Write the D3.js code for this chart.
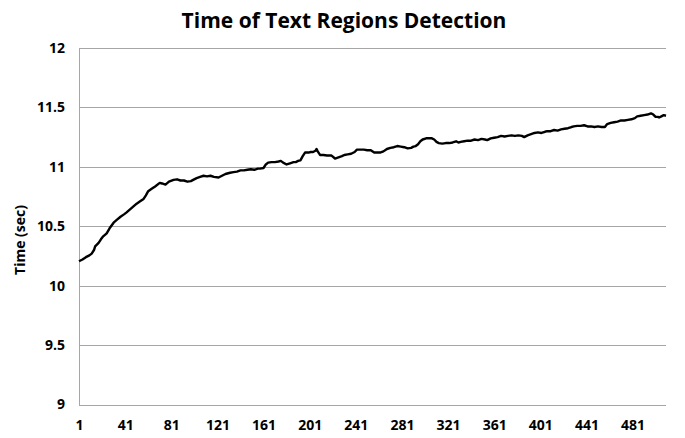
<!DOCTYPE html>
<html>
<head>
<meta charset="utf-8">
<script src="https://cdn.jsdelivr.net/npm/d3@7"></script>
<style>
html,body{margin:0;padding:0;background:#fff;}
svg{display:block;}
text{font-family:"Open Sans","DejaVu Sans",sans-serif;font-weight:bold;fill:#000;}
</style>
</head>
<body>
<svg id="chart" width="685" height="438"></svg>
<script>
const title = "Time of Text Regions Detection";
const yTitle = "Time (sec)";
const yTicks = [9, 9.5, 10, 10.5, 11, 11.5, 12];
const xTickLabels = [1, 41, 81, 121, 161, 201, 241, 281, 321, 361, 401, 441, 481];
const xCount = 510;
const sampleIndex = [1,4,7,10,12,14,15,18,20,22,25,28,31,34,37,40,42,45,48,51,54,57,59,61,64,67,71,73,76,79,83,86,89,92,95,98,100,103,106,109,112,115,118,122,125,128,132,135,138,141,144,147,150,153,156,158,161,163,165,168,171,174,176,178,181,184,187,189,191,193,195,197,200,202,204,206,207,208,210,213,216,220,223,226,229,231,234,237,240,242,245,248,251,254,257,260,262,265,268,271,274,277,280,283,286,289,291,293,295,297,299,302,305,307,309,311,313,316,319,322,325,328,330,332,335,338,341,344,347,350,353,355,358,361,364,367,370,373,376,379,382,385,387,390,393,396,399,402,405,407,410,413,416,419,422,425,428,430,433,436,439,442,445,448,451,454,457,459,462,465,468,471,474,477,480,483,485,488,491,494,497,499,501,503,504,506,508,510];
const timeSec = [10.205,10.22,10.24,10.255,10.27,10.30,10.33,10.36,10.39,10.415,10.44,10.49,10.53,10.555,10.58,10.60,10.615,10.64,10.665,10.69,10.71,10.73,10.76,10.795,10.815,10.835,10.865,10.86,10.85,10.875,10.89,10.895,10.885,10.885,10.875,10.88,10.89,10.905,10.915,10.925,10.92,10.925,10.915,10.91,10.925,10.94,10.95,10.955,10.96,10.97,10.97,10.975,10.98,10.975,10.985,10.985,10.99,11.02,11.035,11.04,11.04,11.045,11.05,11.035,11.02,11.03,11.04,11.04,11.05,11.055,11.09,11.12,11.12,11.125,11.125,11.135,11.15,11.13,11.10,11.10,11.095,11.095,11.07,11.08,11.09,11.10,11.105,11.11,11.125,11.145,11.145,11.145,11.14,11.14,11.12,11.12,11.12,11.13,11.15,11.16,11.165,11.175,11.17,11.165,11.155,11.16,11.17,11.175,11.19,11.215,11.23,11.24,11.24,11.24,11.23,11.21,11.20,11.195,11.20,11.20,11.205,11.215,11.205,11.21,11.215,11.22,11.22,11.23,11.225,11.235,11.23,11.225,11.24,11.245,11.25,11.26,11.255,11.26,11.265,11.26,11.265,11.26,11.25,11.265,11.275,11.285,11.29,11.285,11.295,11.30,11.30,11.31,11.305,11.315,11.32,11.325,11.335,11.34,11.345,11.345,11.35,11.34,11.34,11.335,11.34,11.335,11.335,11.36,11.37,11.375,11.38,11.39,11.39,11.395,11.40,11.41,11.425,11.43,11.435,11.44,11.45,11.44,11.42,11.42,11.415,11.425,11.435,11.43];

const svg = d3.select("#chart");
const plotL = 79, plotR = 666, plotT = 48, plotB = 404.5;

const x = d3.scaleLinear().domain([1, xCount]).range([plotL, plotR]);
const y = d3.scaleLinear().domain([9, 12]).range([plotB, plotT]);

// gridlines
svg.append("g")
  .attr("transform", `translate(${plotL},0)`)
  .call(d3.axisLeft(y).tickValues(yTicks).tickSize(-(plotR - plotL)).tickFormat(d => d))
  .call(g => g.select(".domain").remove())
  .call(g => g.selectAll(".tick line").attr("stroke", "#a6a6a6").attr("stroke-width", 1).attr("shape-rendering", "crispEdges"))
  .call(g => g.selectAll(".tick text").attr("x", -14).attr("font-size", 14).attr("font-family", "'Open Sans',sans-serif").attr("font-weight", "bold").attr("fill", "#000"));

// y axis line
svg.append("line")
  .attr("x1", plotL).attr("x2", plotL).attr("y1", plotT).attr("y2", plotB)
  .attr("stroke", "#a6a6a6").attr("stroke-width", 1).attr("shape-rendering", "crispEdges");

// x axis labels
svg.append("g")
  .attr("transform", `translate(0,${plotB})`)
  .call(d3.axisBottom(x).tickValues(xTickLabels).tickSize(0).tickPadding(16).tickFormat(d => d))
  .call(g => g.select(".domain").remove())
  .call(g => g.selectAll(".tick text").attr("font-size", 14).attr("font-family", "'Open Sans',sans-serif").attr("font-weight", "bold").attr("fill", "#000"));

// line
const pts = sampleIndex.map((d, i) => [d, timeSec[i]]);
svg.append("path")
  .datum(pts)
  .attr("fill", "none")
  .attr("stroke", "#000")
  .attr("stroke-width", 2.4)
  .attr("stroke-linejoin", "round")
  .attr("d", d3.line().x(d => x(d[0])).y(d => y(d[1])));

// title
svg.append("text")
  .attr("x", 344).attr("y", 28)
  .attr("text-anchor", "middle")
  .attr("font-size", 21)
  .text(title);

// y title
svg.append("text")
  .attr("transform", "translate(25,240) rotate(-90)")
  .attr("text-anchor", "middle")
  .attr("font-size", 14)
  .text(yTitle);
</script>
</body>
</html>
